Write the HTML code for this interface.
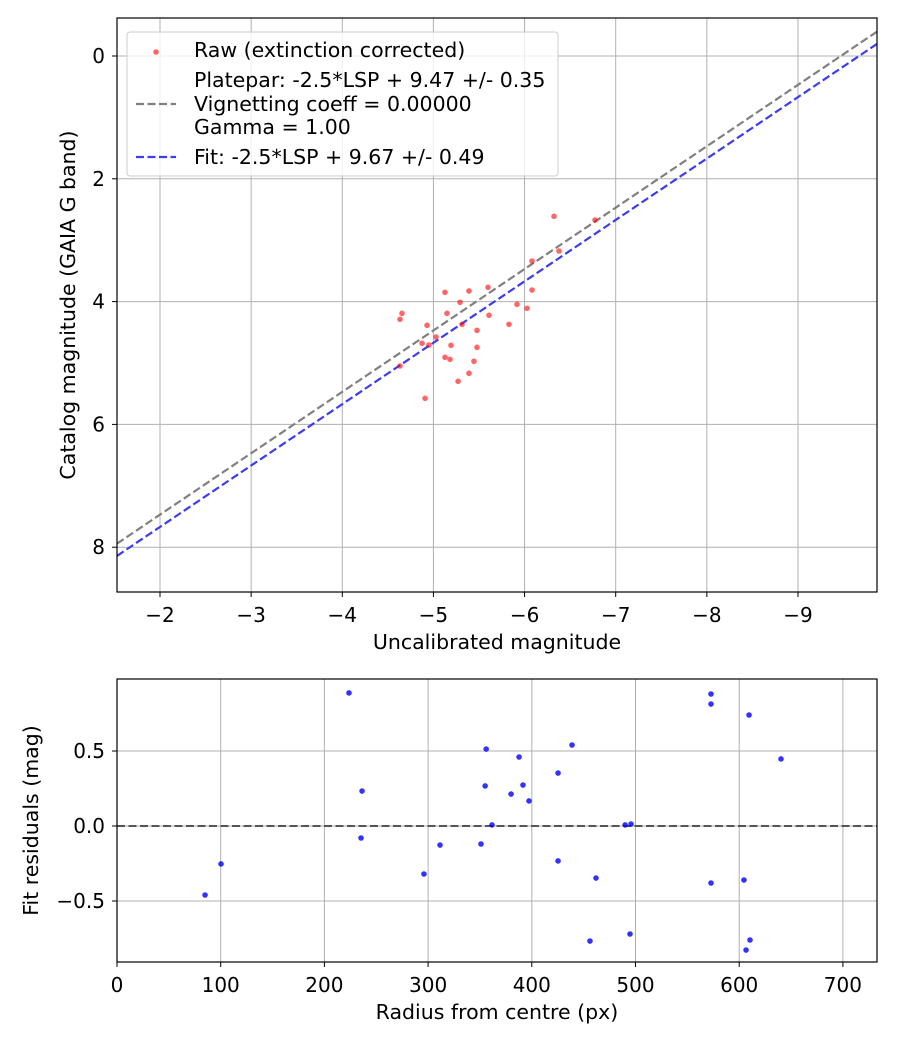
<!DOCTYPE html>
<html><head><meta charset="utf-8"><style>
body{margin:0;background:#fff}
svg{font-family:"DejaVu Sans","Liberation Sans",sans-serif}
</style></head><body>
<svg id="s" width="900" height="1050"></svg>
<script>
const rawX=[-6.323,-6.773,-6.378,-6.082,-6.082,-5.127,-5.390,-5.599,-5.292,-5.917,-6.027,-4.655,-4.633,-5.149,-5.610,-4.930,-5.314,-5.829,-5.478,-5.028,-4.875,-4.951,-5.193,-5.478,-5.127,-5.182,-5.445,-4.633,-5.390,-5.270,-4.908];
const rawY=[2.611,2.671,3.176,3.339,3.811,3.849,3.827,3.767,4.011,4.044,4.109,4.191,4.288,4.191,4.223,4.386,4.370,4.370,4.468,4.577,4.679,4.707,4.712,4.745,4.907,4.940,4.972,5.049,5.168,5.298,5.575];
const platepar=9.47, fitOffset=9.67;
const resR=[84.9,100.3,223.7,236.3,235.3,296,311.5,351,355,356,361.6,380,387.7,391.5,397.3,425.3,425.3,438.8,456.1,461.9,490,495.7,494.7,572.8,572.8,572.8,604.6,609.5,606.6,610.4,640.3];
const resV=[-0.46,-0.253,0.887,0.233,-0.08,-0.32,-0.127,-0.12,0.267,0.513,0.007,0.213,0.46,0.273,0.167,0.353,-0.233,0.54,-0.767,-0.347,0.007,0.013,-0.72,0.88,0.813,-0.38,-0.36,0.74,-0.827,-0.76,0.447];
const topXTicks=[-2,-3,-4,-5,-6,-7,-8,-9], topYTicks=[0,2,4,6,8];
const botXTicks=[0,100,200,300,400,500,600,700], botYTicks=[0.5,0,-0.5];
const botYLabels=["0.5","0.0","\u22120.5"];

const FS=20.5, TS=20;
const S=document.getElementById('s');const NS='http://www.w3.org/2000/svg';
function mk(t,a,p){const e=document.createElementNS(NS,t);for(const k in a)e.setAttribute(k,a[k]);(p||S).appendChild(e);return e;}
const T={l:117,r:877,t:18,b:592};
const tx=v=>160+(-v-2)*91.14, ty=v=>56+v*61.4;
const B={l:117,r:877,t:679,b:962};
const bx=v=>117+v*1.037, by=v=>826-v*150;
function grid(A,xt,yt,fx,fy){
 xt.forEach(v=>{const g=mk('line',{x1:fx(v),x2:fx(v),y1:A.t,y2:A.b,stroke:'#b0b0b0','stroke-width':1});});
 yt.forEach(v=>{const g=mk('line',{x1:A.l,x2:A.r,y1:fy(v),y2:fy(v),stroke:'#b0b0b0','stroke-width':1});});
}
function frame(A,xt,yt,fx,fy,xl,yl,xlab,ylab,name){
 const f=mk('rect',{x:A.l,y:A.t,width:A.r-A.l,height:A.b-A.t,fill:'none',stroke:'#000','stroke-width':1.2});
 
 xt.forEach((v,i)=>{mk('line',{x1:fx(v),x2:fx(v),y1:A.b,y2:A.b+5,stroke:'#000'});const t=mk('text',{x:fx(v),y:A.b+30,'text-anchor':'middle','font-size':TS});t.textContent=xl[i];});
 yt.forEach((v,i)=>{mk('line',{x1:A.l-5,x2:A.l,y1:fy(v),y2:fy(v),stroke:'#000'});const t=mk('text',{x:A.l-12,y:fy(v)+7,'text-anchor':'end','font-size':TS});t.textContent=yl[i];});
 const a=mk('text',{x:(A.l+A.r)/2,y:A.b+57,'text-anchor':'middle','font-size':FS});a.textContent=xlab;
 const cy=(A.t+A.b)/2,cx=name==='top'?75:38;
 const b=mk('text',{x:cx,y:cy,'text-anchor':'middle','font-size':FS,transform:`rotate(-90 ${cx} ${cy})`});b.textContent=ylab;
}
grid(T,topXTicks,topYTicks,tx,ty);
mk('clipPath',{id:'ct'});mk('rect',{x:T.l,y:T.t,width:T.r-T.l,height:T.b-T.t},S.lastChild);
const x0=-1.528,x1=-9.867;
let l=mk('line',{x1:tx(x0),y1:ty(x0+platepar),x2:tx(x1),y2:ty(x1+platepar),stroke:'#808080','stroke-width':2.2,'stroke-dasharray':'8 3.5','clip-path':'url(#ct)'});

l=mk('line',{x1:tx(x0),y1:ty(x0+fitOffset),x2:tx(x1),y2:ty(x1+fitOffset),stroke:'#3c3cf5','stroke-width':2.2,'stroke-dasharray':'8 3.5','clip-path':'url(#ct)'});

rawX.forEach((v,i)=>{const c=mk('circle',{cx:tx(v),cy:ty(rawY[i]),r:2.8,fill:'#ff0000','fill-opacity':0.6});});
frame(T,topXTicks,topYTicks,tx,ty,topXTicks.map(v=>'\u2212'+(-v)),topYTicks.map(String),'Uncalibrated magnitude','Catalog magnitude (GAIA G band)','top');
const lg=mk('g',{});
mk('rect',{x:127,y:32,width:431,height:144,rx:3,fill:'#fff','fill-opacity':0.8,stroke:'#ccc'},lg);
mk('circle',{cx:156,cy:52,r:2.8,fill:'#ff0000','fill-opacity':0.6},lg);
mk('line',{x1:136,x2:176,y1:104,y2:104,stroke:'#808080','stroke-width':2.2,'stroke-dasharray':'8 3.5'},lg);
mk('line',{x1:136,x2:176,y1:157,y2:157,stroke:'#3c3cf5','stroke-width':2.2,'stroke-dasharray':'8 3.5'},lg);
[['Raw (extinction corrected)',57],['Platepar: -2.5*LSP + 9.47 +/- 0.35',87],['Vignetting coeff = 0.00000',111],['Gamma = 1.00',134],['Fit: -2.5*LSP + 9.67 +/- 0.49',164]].forEach(([s,y])=>{const t=mk('text',{x:194,y:y,'font-size':FS},lg);t.textContent=s;});
grid(B,botXTicks,botYTicks,bx,by);
l=mk('line',{x1:B.l,x2:B.r,y1:by(0),y2:by(0),stroke:'#555','stroke-width':2,'stroke-dasharray':'8 3.5'});

resR.forEach((v,i)=>{const c=mk('circle',{cx:bx(v),cy:by(resV[i]),r:2.8,fill:'#0000ff','fill-opacity':0.8});});
frame(B,botXTicks,botYTicks,bx,by,botXTicks.map(String),botYLabels,'Radius from centre (px)','Fit residuals (mag)','bottom');
</script>
</body></html>
